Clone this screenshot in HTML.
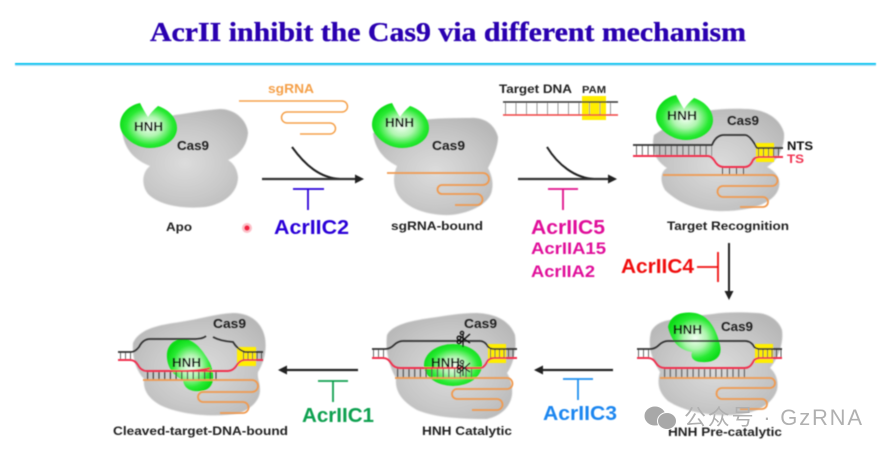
<!DOCTYPE html>
<html><head><meta charset="utf-8"><style>
html,body{margin:0;padding:0;background:#fff;width:891px;height:453px;overflow:hidden}
svg{display:block}
text{font-family:"Liberation Sans","Noto Sans CJK SC",sans-serif;font-weight:bold}
</style></head><body>
<svg width="891" height="453" viewBox="0 0 891 453" xmlns="http://www.w3.org/2000/svg">
<defs>
<radialGradient id="gray" cx="50%" cy="55%" r="60%"><stop offset="0" stop-color="#dcdcdc"/><stop offset=".6" stop-color="#c8c8c8"/><stop offset="1" stop-color="#b8b8b8"/></radialGradient>
<radialGradient id="green" cx="52%" cy="52%" r="54%"><stop offset="0" stop-color="#f4fff4"/><stop offset=".4" stop-color="#b0f5b0"/><stop offset=".75" stop-color="#2aea34"/><stop offset="1" stop-color="#0cdc18"/></radialGradient>
<filter id="b1" x="-5%" y="-5%" width="110%" height="110%"><feGaussianBlur stdDeviation="0.8"/></filter>
<filter id="b2" x="-5%" y="-5%" width="110%" height="110%"><feGaussianBlur stdDeviation="0.5"/></filter>
<path id="pac" d="M-8,-22 Q-4,-14 0,-8 Q4,-14 10,-19 C22,-15 29,-6 29,3 C29,15 16,23 2,23 C-14,23 -28,10 -28,0 C-28,-12 -18,-20 -8,-22 Z" fill="url(#green)"/>
</defs>
<rect width="891" height="453" fill="#fff"/>

<!-- bodies -->
<g filter="url(#b1)" fill="url(#gray)">
<path d="M122,130 C124,150 135,160 150,166 C142,172 141,185 148,194 C160,206 185,209 205,207 C225,204 238,192 238,177 C237,168 233,163 228,160 C240,155 247,145 248,133 C247,120 235,109 220,109 C205,110 190,113 175,115 Z"/>
<path d="M373,133 C375,150 385,160 397,166 C393,175 393,185 397,193 C405,208 425,214 443,215 C465,216 490,205 492,190 C494,180 490,172 488,168 C495,155 498,145 498,137 C495,125 485,117 470,118 C450,118 430,118 410,122 Z"/>
<path d="M654,135 C651,150 655,160 667,168 C660,172 660,182 665,190 C680,205 700,210 717,211 C745,212 775,205 779,187 C781,178 775,171 767,167 C778,160 785,147 784,133 C780,118 765,109 745,109 C725,108 700,110 680,118 Z"/>
<path d="M133,343 C132,358 136,370 144,379 C143,390 148,398 160,405 C180,415 215,418 240,413 C252,408 260,400 260,390 C260,382 257,378 258,372 C264,362 267,350 265,338 C262,322 250,313 233,313 C215,314 200,319 180,322 C160,325 140,328 133,343 Z"/>
<path d="M387,335 C385,352 390,368 396,378 C395,390 400,400 417,410 C435,418 465,419 487,419 C500,416 510,408 512,395 C513,385 510,378 507,373 C513,365 517,350 515,335 C510,322 498,314 477,313 C460,313 445,316 430,318 C410,321 392,325 387,335 Z"/>
<path d="M651,332 C648,345 650,356 660,372 C657,382 658,392 668,401 C685,412 710,416 733,415 C755,414 772,405 777,390 C779,380 775,372 770,368 C777,360 784,345 782,330 C778,318 765,313 757,313 C740,312 725,312 713,314 C695,316 680,318 665,321 C658,323 653,327 651,332 Z"/>
</g>

<g filter="url(#b2)">
<!-- title -->
<text x="150" y="41" textLength="596" lengthAdjust="spacingAndGlyphs" font-size="27" fill="#2a00b0" stroke="#2a00b0" stroke-width=".35" style="font-family:'Liberation Serif',serif">AcrII inhibit the Cas9 via different mechanism</text>
<rect x="15" y="63" width="861" height="2" fill="#00c4f0"/>
<rect x="15" y="65" width="861" height="1" fill="#b0e6fa"/>

<!-- Apo -->
<use href="#pac" x="148" y="125"/>
<text x="134" y="131" textLength="29" lengthAdjust="spacingAndGlyphs" font-size="13" fill="#111">HNH</text>
<text x="177" y="150" textLength="32" lengthAdjust="spacingAndGlyphs" font-size="13" fill="#222">Cas9</text>
<text x="166" y="231" textLength="26" lengthAdjust="spacingAndGlyphs" font-size="12" fill="#222">Apo</text>
<circle cx="247" cy="228" r="2.5" fill="#f0203c"/>
<circle cx="247" cy="228" r="5" fill="#f5304a" opacity=".3"/>

<!-- sgRNA -->
<text x="268" y="93" textLength="46" lengthAdjust="spacingAndGlyphs" font-size="13" fill="#f5a04a">sgRNA</text>
<path d="M239,101 H342 a5.5,5.5 0 0 1 0,11 H287 a5.5,5.5 0 0 0 0,11 H330 a5.5,5.5 0 0 1 0,11 H300" fill="none" stroke="#f5a04a" stroke-width="1.5"/>

<!-- arrow 1 -->
<path d="M292,147 C305,165 320,178 340,179" fill="none" stroke="#222" stroke-width="2"/>
<path d="M262,179 H357" stroke="#333" stroke-width="2.2" fill="none"/>
<path d="M355,174.5 L364,179 L355,183.5 Z" fill="#222"/>
<path d="M293,189 H324 M308,189 V210" stroke="#2a00d8" stroke-width="1.8" fill="none"/>
<text x="274" y="234" textLength="75" lengthAdjust="spacingAndGlyphs" font-size="20" fill="#2a00d8">AcrIIC2</text>

<!-- sgRNA bound -->
<use href="#pac" x="400" y="125"/>
<text x="385" y="127" textLength="29" lengthAdjust="spacingAndGlyphs" font-size="13" fill="#111">HNH</text>
<text x="432" y="150" textLength="33" lengthAdjust="spacingAndGlyphs" font-size="13" fill="#222">Cas9</text>
<path d="M387,173 H483 a6,6 0 0 1 0,12 H442 a4.5,4.5 0 0 0 0,9 H477 a5.5,5.5 0 0 1 0,11 H455" fill="none" stroke="#f09a50" stroke-width="1.8"/>
<text x="391" y="230" textLength="92" lengthAdjust="spacingAndGlyphs" font-size="12" fill="#222">sgRNA-bound</text>

<!-- Target DNA -->
<text x="499" y="93" textLength="73" lengthAdjust="spacingAndGlyphs" font-size="12" fill="#222">Target DNA</text>
<text x="582" y="93" textLength="24" lengthAdjust="spacingAndGlyphs" font-size="10" fill="#222">PAM</text>
<rect x="582" y="96" width="24" height="24" fill="#ffee00"/>
<line x1="505" x2="618" y1="108.5" y2="108.5" stroke="#999" stroke-width="13" stroke-dasharray="1 9.5"/>
<line x1="503" x2="618" y1="102" y2="102" stroke="#333" stroke-width="1.4"/>
<line x1="503" x2="618" y1="115" y2="115" stroke="#f04040" stroke-width="1.4"/>

<!-- arrow 2 -->
<path d="M547,147 C558,165 575,178 594,179" fill="none" stroke="#222" stroke-width="2"/>
<path d="M518,179 H610" stroke="#333" stroke-width="2.2" fill="none"/>
<path d="M608,174.5 L617,179 L608,183.5 Z" fill="#222"/>
<path d="M548,189 H578 M563,189 V210" stroke="#e0108a" stroke-width="1.8" fill="none"/>
<text x="531" y="234" textLength="74" lengthAdjust="spacingAndGlyphs" font-size="20" fill="#e0109a">AcrIIC5</text>
<text x="531" y="254" textLength="75" lengthAdjust="spacingAndGlyphs" font-size="17" fill="#e0109a">AcrIIA15</text>
<text x="531" y="277" textLength="64" lengthAdjust="spacingAndGlyphs" font-size="17" fill="#e0109a">AcrIIA2</text>

<!-- Target recognition -->
<use href="#pac" x="684" y="117"/>
<text x="667" y="120" textLength="30" lengthAdjust="spacingAndGlyphs" font-size="13" fill="#111">HNH</text>
<text x="727" y="125" textLength="32" lengthAdjust="spacingAndGlyphs" font-size="13" fill="#222">Cas9</text>
<rect x="756" y="143" width="18" height="19" fill="#ffee00"/>
<line x1="636" x2="712" y1="150.5" y2="150.5" stroke="#666" stroke-width="11" stroke-dasharray="1 4.8"/>
<line x1="758" x2="783" y1="152" y2="152" stroke="#555" stroke-width="8" stroke-dasharray="1 4"/>
<line x1="722" x2="748" y1="171" y2="171" stroke="#555" stroke-width="8" stroke-dasharray="1 6"/>
<path d="M633,145 H712 Q716,135 724,135 H745 Q750,135 757,148 H783" fill="none" stroke="#333" stroke-width="1.7" stroke-linejoin="round"/>
<path d="M633,156 H708 Q712,156 716,163 Q719,167 724,167 H745 Q750,167 753,160 Q755,157 760,157 H783" fill="none" stroke="#f03050" stroke-width="1.9" stroke-linejoin="round"/>
<text x="787" y="150" textLength="26" lengthAdjust="spacingAndGlyphs" font-size="12" fill="#111">NTS</text>
<text x="787" y="163" textLength="17" lengthAdjust="spacingAndGlyphs" font-size="12" fill="#f03050">TS</text>
<path d="M663,175 H772 a5.5,5.5 0 0 1 0,11 H723 a5.5,5.5 0 0 0 0,11 H763 a5,5 0 0 1 0,10 H740" fill="none" stroke="#f09a50" stroke-width="1.8"/>
<text x="667" y="230" textLength="122" lengthAdjust="spacingAndGlyphs" font-size="12" fill="#222">Target Recognition</text>

<!-- AcrIIC4 + vertical arrow -->
<text x="621" y="273" textLength="73" lengthAdjust="spacingAndGlyphs" font-size="20" fill="#f01010">AcrIIC4</text>
<path d="M697,267 H718 M718,252 V282" stroke="#f01010" stroke-width="1.8" fill="none"/>
<path d="M729,243 V293" stroke="#222" stroke-width="2"/>
<path d="M724.5,291 L729,300 L733.5,291 Z" fill="#222"/>

<!-- Pre-catalytic -->
<path d="M683,313 C702,310 714,320 720,345 C723,358 713,363 702,362 C694,362 690,358 692,352 C680,350 672,343 668,327 C670,318 676,314 683,313 Z" fill="url(#green)"/>
<rect x="755" y="344" width="18" height="19" fill="#ffee00"/>
<line x1="638" x2="653" y1="353.5" y2="353.5" stroke="#666" stroke-width="9" stroke-dasharray="1 4"/>
<line x1="758" x2="782" y1="353.5" y2="353.5" stroke="#555" stroke-width="9" stroke-dasharray="1 3.5"/>
<line x1="664" x2="746" y1="373" y2="373" stroke="#666" stroke-width="10" stroke-dasharray="1.2 4.5"/>
<path d="M637,349 H650 Q655,349 659,345 Q663,341 668,341 H745 Q750,341 753,345 Q755,349 760,349 H782" fill="none" stroke="#333" stroke-width="1.7"/>
<path d="M637,358 H648 Q653,358 656,363 Q659,368 665,368 H745 Q750,368 753,362 Q755,358 760,358 H782" fill="none" stroke="#f03050" stroke-width="1.9"/>
<path d="M660,378 H770 a5,5 0 0 1 0,10 H722 a5.5,5.5 0 0 0 0,11 H762 a5,5 0 0 1 0,10 H740" fill="none" stroke="#f09a50" stroke-width="1.8"/>
<text x="673" y="334" textLength="29" lengthAdjust="spacingAndGlyphs" font-size="13" fill="#111">HNH</text>
<text x="721" y="331" textLength="32" lengthAdjust="spacingAndGlyphs" font-size="13" fill="#222">Cas9</text>

<!-- arrow C3 -->
<path d="M613,370 H541" stroke="#222" stroke-width="2.2"/>
<path d="M543,365.5 L534,370 L543,374.5 Z" fill="#222"/>
<path d="M563,379 H593 M578,379 V400" stroke="#2090f0" stroke-width="1.8" fill="none"/>
<text x="543" y="420" textLength="74" lengthAdjust="spacingAndGlyphs" font-size="20" fill="#1a86f0">AcrIIC3</text>

<!-- Catalytic -->
<ellipse cx="453" cy="365" rx="29" ry="21" fill="url(#green)"/>
<rect x="488" y="344" width="18" height="19" fill="#ffee00"/>
<line x1="373" x2="388" y1="353.5" y2="353.5" stroke="#666" stroke-width="9" stroke-dasharray="1 4"/>
<line x1="490" x2="517" y1="353.5" y2="353.5" stroke="#555" stroke-width="9" stroke-dasharray="1 3.5"/>
<line x1="397" x2="472" y1="373" y2="373" stroke="#555" stroke-width="10" stroke-dasharray="1.2 4.5"/>
<path d="M372,349 H385 Q390,349 394,345 Q398,341 403,341 H480 Q484,341 487,345 Q489,349 494,349 H517" fill="none" stroke="#333" stroke-width="1.7"/>
<path d="M372,358 H383 Q388,358 391,363 Q394,368 400,368 H480 Q484,368 487,362 Q489,358 494,358 H517" fill="none" stroke="#f03050" stroke-width="1.9"/>
<path d="M395,378 H507 a5.5,5.5 0 0 1 0,11 H457 a5,5 0 0 0 0,10 H497 a5.5,5.5 0 0 1 0,11 H472" fill="none" stroke="#f09a50" stroke-width="1.8"/>
<text x="431" y="367" textLength="29" lengthAdjust="spacingAndGlyphs" font-size="13" fill="#111">HNH</text>
<text x="464" y="328" textLength="33" lengthAdjust="spacingAndGlyphs" font-size="13" fill="#222">Cas9</text>
<!-- scissors -->
<g fill="none" stroke="#111" stroke-width="1.3">
<path d="M460,336 L470,343 M460,343 L470,334 M463,334 V347"/>
<circle cx="459" cy="338" r="1.8"/><circle cx="459" cy="342" r="1.8"/>
<circle cx="462" cy="333" r="1.6"/>
<path d="M460,365 L470,372 M460,372 L470,363 M463,363 V376"/>
<circle cx="459" cy="367" r="1.8"/><circle cx="459" cy="371" r="1.8"/>
<circle cx="462" cy="362" r="1.6"/>
</g>

<!-- arrow C1 -->
<path d="M358,370 H285" stroke="#222" stroke-width="2.2"/>
<path d="M287,365.5 L278,370 L287,374.5 Z" fill="#222"/>
<path d="M318,381 H348 M333,381 V402" stroke="#10a050" stroke-width="1.8" fill="none"/>
<text x="302" y="422" textLength="72" lengthAdjust="spacingAndGlyphs" font-size="20" fill="#0aa050">AcrIIC1</text>

<!-- Cleaved -->
<path d="M177,340 C190,336 200,345 210,363 C216,378 214,390 200,391 C190,392 184,388 183,380 C172,375 166,365 167,353 C168,346 172,342 177,340 Z" fill="url(#green)"/>
<rect x="237" y="347" width="19" height="19" fill="#ffee00"/>
<line x1="120" x2="134" y1="356" y2="356" stroke="#666" stroke-width="8" stroke-dasharray="1 4"/>
<line x1="243" x2="263" y1="356" y2="356" stroke="#555" stroke-width="8" stroke-dasharray="1 3.5"/>
<line x1="147" x2="220" y1="375.5" y2="375.5" stroke="#444" stroke-width="9" stroke-dasharray="1.2 4.5"/>
<path d="M118,352 H131 Q135,352 139,347 Q143,339 150,339 H193 Q203,339 206,336 M213,337 Q220,341 233,342 Q238,350 245,352 H263" fill="none" stroke="#333" stroke-width="1.7"/>
<path d="M118,360 H130 Q135,360 138,365 Q141,371 147,371 H228 Q233,371 237,365 Q240,360 245,360 H263 M180,371 Q200,371 210,368" fill="none" stroke="#f03050" stroke-width="1.9"/>
<path d="M143,380 H252 a6,6 0 0 1 0,12 H203 a5,5 0 0 0 0,10 H243 a5.5,5.5 0 0 1 0,11 H220" fill="none" stroke="#f09a50" stroke-width="1.8"/>
<text x="172" y="367" textLength="29" lengthAdjust="spacingAndGlyphs" font-size="13" fill="#111">HNH</text>
<text x="213" y="328" textLength="33" lengthAdjust="spacingAndGlyphs" font-size="13" fill="#222">Cas9</text>

<!-- bottom labels -->
<text x="113" y="435" textLength="175" lengthAdjust="spacingAndGlyphs" font-size="12" fill="#222">Cleaved-target-DNA-bound</text>
<text x="422" y="435" textLength="90" lengthAdjust="spacingAndGlyphs" font-size="12" fill="#222">HNH Catalytic</text>
<text x="668" y="436" textLength="114" lengthAdjust="spacingAndGlyphs" font-size="12" fill="#222">HNH Pre-catalytic</text>
</g>

<!-- watermark -->
<g fill="#a8a8a8" stroke="#fff" stroke-width="1">
<ellipse cx="655" cy="416" rx="11" ry="10"/>
<ellipse cx="667" cy="421" rx="9.5" ry="8.5"/>
</g>
<text x="684" y="425" textLength="178" lengthAdjust="spacing" font-size="22" fill="#b0b0b0" style="font-weight:normal">公众号 · GzRNA</text>
</svg>
</body></html>
